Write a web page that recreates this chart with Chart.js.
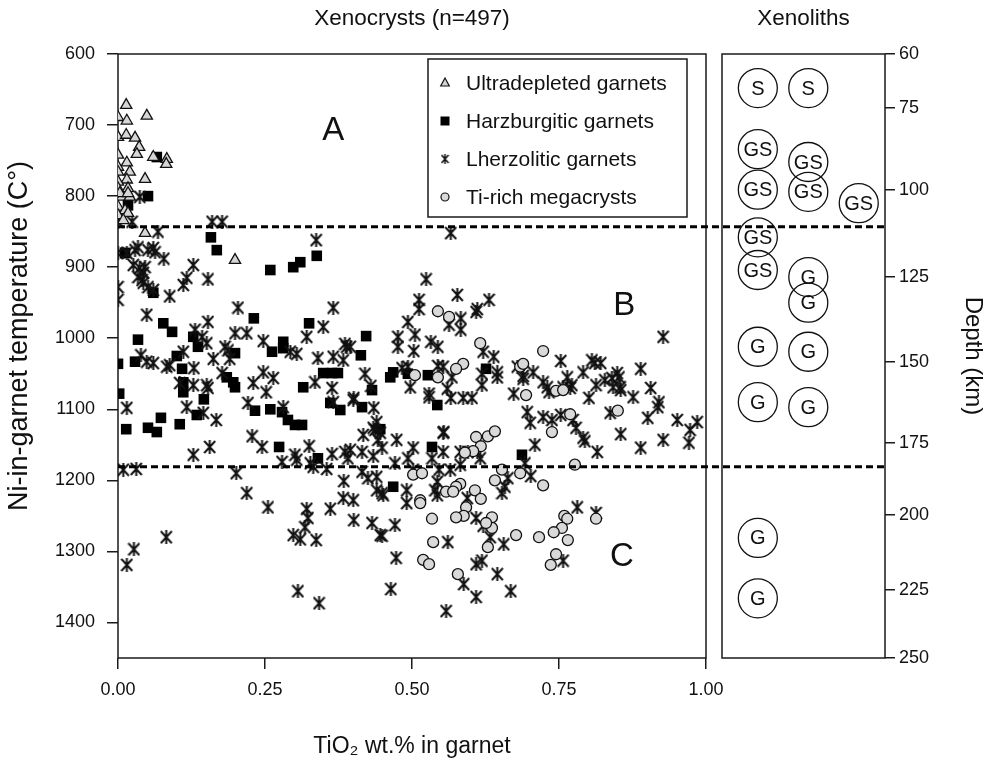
<!DOCTYPE html>
<html><head><meta charset="utf-8">
<script src="https://cdn.jsdelivr.net/npm/chart.js@4.4.1/dist/chart.umd.min.js"></script>
<style>
html,body{margin:0;padding:0;background:#fff;}
#wrap{position:relative;width:989px;height:764px;}
#wrap canvas{position:absolute;left:0;top:0;}
</style></head><body>
<div id="wrap"><canvas id="main" width="989" height="764"></canvas><canvas id="xeno" width="989" height="764"></canvas></div>
<script>
// ---------- DATA (TiO2 wt.%, Ni-in-garnet temperature °C) ----------
const ultradepleted = [[0.014,672],[0.000,689],[0.049,687],[0.015,694],[0.000,717],[0.014,714],[0.029,718],[0.036,731],[0.032,741],[0.000,742],[0.060,745],[0.083,748],[0.082,755],[0.015,753],[0.000,759],[0.000,766],[0.020,766],[0.046,776],[0.015,777],[0.000,780],[0.000,789],[0.017,789],[0.007,801],[0.020,801],[0.003,796],[0.017,796],[0.000,815],[0.012,820],[0.017,824],[0.000,827],[0.009,834],[0.046,852],[0.199,890]];
const harzburgitic = [[0.066,745],[0.051,800],[0.017,813],[0.158,858],[0.168,876],[0.259,904],[0.298,900],[0.310,893],[0.338,884],[0.012,880],[0.060,936],[0.231,972],[0.077,979],[0.092,991],[0.325,979],[0.034,1002],[0.128,998],[0.136,1012],[0.281,1005],[0.281,1014],[0.262,1019],[0.199,1021],[0.422,997],[0.413,1024],[0.000,1036],[0.029,1033],[0.100,1025],[0.109,1043],[0.349,1049],[0.364,1049],[0.374,1049],[0.463,1055],[0.468,1048],[0.111,1062],[0.111,1076],[0.185,1055],[0.196,1062],[0.199,1069],[0.315,1069],[0.432,1073],[0.146,1086],[0.002,1078],[0.361,1091],[0.378,1101],[0.415,1097],[0.233,1102],[0.259,1100],[0.279,1104],[0.289,1115],[0.301,1122],[0.313,1122],[0.134,1108],[0.073,1112],[0.014,1128],[0.051,1126],[0.066,1132],[0.105,1121],[0.446,1128],[0.274,1153],[0.340,1169],[0.468,1209],[0.493,1050],[0.527,1052],[0.543,1094],[0.626,1043],[0.534,1153],[0.687,1164]];
const lherzolitic = [[0.037,801],[0.000,836],[0.024,836],[0.160,836],[0.177,836],[0.068,850],[0.000,880],[0.015,880],[0.029,876],[0.034,872],[0.051,876],[0.060,873],[0.063,879],[0.078,888],[0.026,897],[0.037,901],[0.046,900],[0.043,908],[0.034,914],[0.041,918],[0.043,922],[0.051,928],[0.060,932],[0.088,941],[0.128,897],[0.117,915],[0.111,925],[0.153,917],[0.000,928],[0.000,946],
[0.337,862],[0.049,967],[0.204,957],[0.366,957],[0.153,977],[0.349,984],[0.131,988],[0.143,998],[0.151,1007],[0.199,993],[0.219,993],[0.247,1004],[0.321,998],[0.182,1012],[0.187,1017],[0.190,1029],[0.162,1029],[0.111,1019],[0.039,1024],[0.049,1033],[0.060,1035],[0.083,1040],[0.088,1038],[0.129,1042],[0.177,1049],[0.247,1048],[0.264,1056],[0.230,1063],[0.252,1076],[0.293,1019],[0.304,1022],[0.340,1028],[0.366,1026],[0.383,1031],[0.386,1008],[0.389,1012],[0.420,1050],[0.335,1062],[0.364,1070],[0.105,1063],[0.128,1066],[0.151,1066],[0.153,1070],[0.400,1087],[0.015,1098],[0.117,1097],[0.145,1105],[0.167,1115],[0.221,1091],[0.281,1097],[0.366,1090],[0.435,1098],[0.440,1118],[0.434,1126],[0.446,1133],[0.442,1143],[0.417,1136],[0.228,1138],[0.156,1153],[0.245,1153],[0.325,1152],[0.474,1143],[0.476,998],[0.476,1012],
[0.128,1164],[0.009,1185],[0.031,1184],[0.201,1190],[0.279,1174],[0.301,1164],[0.304,1171],[0.332,1181],[0.327,1176],[0.355,1184],[0.364,1163],[0.386,1160],[0.391,1169],[0.415,1160],[0.434,1166],[0.415,1188],[0.425,1197],[0.440,1195],[0.440,1214],[0.451,1221],[0.471,1176],[0.384,1201],[0.219,1218],[0.255,1238],[0.383,1225],[0.400,1228],[0.361,1240],[0.321,1240],[0.323,1253],[0.318,1266],[0.298,1277],[0.310,1283],[0.337,1284],[0.401,1256],[0.432,1260],[0.446,1277],[0.471,1263],[0.082,1280],[0.027,1297],[0.015,1319],[0.473,1309],[0.306,1356],[0.342,1373],[0.464,1353],
[0.566,852],[0.524,917],[0.512,946],[0.512,959],[0.577,939],[0.611,959],[0.609,963],[0.631,946],[0.493,977],[0.583,972],[0.583,988],[0.563,981],[0.505,995],[0.503,1018],[0.532,1005],[0.544,1012],[0.621,1019],[0.639,1026],[0.645,1048],[0.645,1055],[0.395,1012],[0.430,1067],[0.401,1084],[0.483,1042],[0.493,1040],[0.497,1069],[0.529,1078],[0.529,1083],[0.544,1039],[0.553,1040],[0.560,1071],[0.566,1084],[0.587,1084],[0.602,1084],[0.619,1050],[0.619,1066],[0.568,1055],[0.673,1078],[0.679,1040],[0.689,1053],[0.689,1057],[0.706,1048],[0.723,1062],[0.730,1069],[0.733,1076],[0.753,1032],[0.764,1055],[0.757,1069],[0.769,1070],[0.772,1066],[0.791,1048],[0.806,1031],[0.811,1035],[0.821,1035],[0.801,1084],[0.813,1066],[0.840,1056],[0.842,1069],[0.849,1049],[0.852,1055],[0.854,1069],[0.855,1073],[0.828,1059],[0.876,1083],[0.889,1043],[0.906,1070],[0.920,1090],[0.918,1097],[0.927,998],[0.696,1104],[0.701,1119],[0.723,1111],[0.738,1115],[0.753,1108],[0.774,1115],[0.779,1126],[0.791,1140],[0.794,1145],[0.815,1160],[0.837,1105],[0.855,1135],[0.889,1154],[0.901,1112],[0.927,1143],[0.951,1115],[0.973,1129],[0.971,1147],[0.985,1118],
[0.554,1132],[0.437,1129],[0.449,1154],[0.493,1169],[0.502,1154],[0.553,1160],[0.582,1160],[0.534,1169],[0.611,1160],[0.616,1169],[0.709,1150],[0.395,1157],[0.546,1185],[0.565,1185],[0.502,1185],[0.702,1194],[0.553,1133],[0.595,1160],[0.582,1178],[0.692,1176],[0.663,1197],[0.658,1209],[0.653,1218],[0.543,1202],[0.543,1221],[0.539,1214],[0.491,1214],[0.491,1232],[0.449,1218],[0.594,1225],[0.781,1238],[0.813,1246],[0.609,1253],[0.621,1264],[0.633,1280],[0.449,1278],[0.561,1287],[0.656,1290],[0.757,1313],[0.609,1318],[0.619,1313],[0.645,1332],[0.588,1346],[0.609,1364],[0.668,1356],[0.558,1384]];
const megacrysts = [[0.544,962],[0.563,970],[0.616,1007],[0.723,1018],[0.587,1036],[0.575,1043],[0.505,1052],[0.544,1055],[0.684,1040],[0.689,1036],[0.694,1080],[0.745,1074],[0.757,1073],[0.769,1107],[0.738,1132],[0.850,1102],[0.609,1139],[0.629,1138],[0.641,1131],[0.617,1152],[0.604,1159],[0.590,1161],[0.777,1178],[0.502,1192],[0.517,1190],[0.653,1185],[0.684,1190],[0.641,1200],[0.582,1205],[0.575,1209],[0.558,1216],[0.570,1216],[0.607,1214],[0.617,1226],[0.514,1228],[0.514,1232],[0.723,1207],[0.592,1238],[0.588,1250],[0.575,1252],[0.534,1254],[0.636,1252],[0.636,1267],[0.626,1260],[0.759,1250],[0.764,1254],[0.813,1254],[0.755,1267],[0.741,1273],[0.765,1284],[0.677,1277],[0.716,1280],[0.536,1287],[0.629,1294],[0.745,1304],[0.736,1319],[0.519,1312],[0.529,1318],[0.578,1332]];
const boundaryT = [843, 1181];          // dashed boundaries (°C)
const boundaryX = [0, 1.304];          // extent of dashed lines (TiO2 units, runs into Xenoliths panel)
const tempTicks = [600,700,800,900,1000,1100,1200,1300,1400];
const tioTicks = [0, 0.25, 0.5, 0.75, 1.0];
const regionLabels = ['A','B','C'];
const regionX = [0.366, 0.861, 0.857];
const regionT = [708, 955, 1308];
const legendLabels = ['Ultradepleted garnets','Harzburgitic garnets','Lherzolitic garnets','Ti-rich megacrysts'];
// Xenoliths panel
const xenolithLabels = ['S','S','GS','GS','GS','GS','GS','GS','GS','G','G','G','G','G','G','G','G'];
const xenolithColumn = [1,2,1,2,1,2,3,1,1,2,2,1,2,1,2,1,1];
const xenolithT = [648,648,734,752,791,794,810,858,904,914,950,1012,1019,1090,1097,1281,1366];
const depthTicks = [60,75,100,125,150,175,200,225,250];       // km
const depthTickT = [600,676,791,914,1033,1147,1249,1354,1450]; // equivalent temperature position

// ---------- STYLE ----------
const FONT = "'Liberation Sans', Arial, Helvetica, sans-serif";
Chart.defaults.font.family = FONT;
Chart.defaults.color = '#111';
const INK = '#1a1a1a';
const toXY = a => a.map(p => ({x: p[0], y: p[1]}));

function makeStar(w, h, lw) {
  const c = document.createElement('canvas');
  c.width = w; c.height = h;
  const g = c.getContext('2d');
  g.strokeStyle = '#111'; g.lineWidth = lw;
  g.beginPath();
  g.moveTo(1, 1); g.lineTo(w - 1, h - 1);
  g.moveTo(w - 1, 1); g.lineTo(1, h - 1);
  g.moveTo(w / 2, 0); g.lineTo(w / 2, h);
  g.stroke();
  return c;
}
const starPt = makeStar(13, 14, 2);
const starLeg = makeStar(9, 10, 1.5);

const framePlugin = {
  id: 'frame',
  beforeDatasetsDraw(chart) {
    const {ctx, chartArea: a} = chart;
    ctx.save();
    ctx.strokeStyle = INK; ctx.lineWidth = 1.5;
    ctx.strokeRect(a.left, a.top, a.right - a.left, a.bottom - a.top);
    ctx.restore();
  }
};

const yTitlePlugin = {
  id: 'yTitle',
  afterDraw(chart) {
    const ctx = chart.ctx;
    ctx.save();
    ctx.translate(20, 336);
    ctx.rotate(-Math.PI / 2);
    ctx.font = '27px ' + FONT;
    ctx.fillStyle = '#111';
    ctx.textAlign = 'center'; ctx.textBaseline = 'middle';
    ctx.fillText('Ni-in-garnet temperature (C°)', 0, 0);
    ctx.restore();
  }
};

const regionPlugin = {
  id: 'regions',
  afterDatasetsDraw(chart) {
    const {ctx, scales} = chart;
    ctx.save();
    ctx.font = '33px ' + FONT;
    ctx.fillStyle = '#111';
    ctx.textAlign = 'center'; ctx.textBaseline = 'middle';
    regionLabels.forEach((t, i) => {
      ctx.fillText(t, scales.x.getPixelForValue(regionX[i]), scales.y.getPixelForValue(regionT[i]));
    });
    ctx.restore();
  }
};

const legendPlugin = {
  id: 'customLegend',
  afterDraw(chart) {
    const ctx = chart.ctx;
    const bx = 428, by = 59, bw = 259, bh = 158;
    ctx.save();
    ctx.fillStyle = '#fff';
    ctx.fillRect(bx, by, bw, bh);
    ctx.strokeStyle = INK; ctx.lineWidth = 1.5;
    ctx.strokeRect(bx, by, bw, bh);
    const rows = [83, 121, 159, 197];
    const mx = 445;
    ctx.fillStyle = '#d4d4d4'; ctx.strokeStyle = '#111'; ctx.lineWidth = 1.2;
    ctx.beginPath();
    ctx.moveTo(mx, rows[0] - 5); ctx.lineTo(mx + 4.3, rows[0] + 3); ctx.lineTo(mx - 4.3, rows[0] + 3); ctx.closePath();
    ctx.fill(); ctx.stroke();
    ctx.fillStyle = '#000';
    ctx.fillRect(mx - 4.5, rows[1] - 4.5, 9, 9);
    ctx.drawImage(starLeg, mx - 4.5, rows[2] - 5);
    ctx.beginPath(); ctx.arc(mx, rows[3], 4, 0, Math.PI * 2);
    ctx.fillStyle = '#d9d9d9'; ctx.fill(); ctx.lineWidth = 1.2; ctx.strokeStyle = '#111'; ctx.stroke();
    ctx.fillStyle = '#111';
    ctx.font = '21px ' + FONT;
    ctx.textAlign = 'left'; ctx.textBaseline = 'middle';
    legendLabels.forEach((t, i) => ctx.fillText(t, 466, rows[i] + 1));
    ctx.restore();
  }
};

const dashed = (t) => ({
  type: 'line',
  data: boundaryX.map(x => ({x: x, y: t})),
  borderColor: '#000', borderWidth: 3, borderDash: [7, 4],
  pointRadius: 0, showLine: true, fill: false, clip: false
});

new Chart(document.getElementById('main'), {
  type: 'scatter',
  data: {
    datasets: [
      dashed(boundaryT[0]),
      dashed(boundaryT[1]),
      {label: 'Ti-rich megacrysts', data: toXY(megacrysts), pointStyle: 'circle', pointRadius: 5.5,
       backgroundColor: '#d9d9d9', borderColor: '#111', borderWidth: 1.3},
      {label: 'Ultradepleted garnets', data: toXY(ultradepleted), pointStyle: 'triangle', pointRadius: 6.5,
       backgroundColor: '#d6d6d6', borderColor: '#111', borderWidth: 1.3},
      {label: 'Lherzolitic garnets', data: toXY(lherzolitic), pointStyle: starPt, pointRadius: 7},
      {label: 'Harzburgitic garnets', data: toXY(harzburgitic), pointStyle: 'rect', pointRadius: 7.5,
       backgroundColor: '#000', borderColor: '#000', borderWidth: 0}
    ]
  },
  options: {
    responsive: false, animation: false, events: [],
    layout: {padding: {left: 0, right: 283, top: 0, bottom: 0}},
    plugins: {
      legend: {display: false}, tooltip: {enabled: false},
      title: {display: true, text: 'Xenocrysts (n=497)', fullSize: false, color: '#111',
              font: {size: 22.5, weight: 'normal'}, padding: {top: 5, bottom: 22}}
    },
    scales: {
      x: {
        type: 'linear', min: 0, max: 1,
        afterBuildTicks: s => { s.ticks = tioTicks.map(v => ({value: v})); },
        ticks: {callback: v => Number(v).toFixed(2), font: {size: 18}, padding: 10, maxRotation: 0, autoSkip: false, color: '#111'},
        grid: {drawOnChartArea: false, tickLength: 11, color: INK, lineWidth: 1.5},
        border: {display: false},
        title: {display: true, text: 'TiO₂ wt.% in garnet', font: {size: 23}, color: '#111', padding: {top: 0, bottom: 4}},
        afterFit: s => { s.height = 106; }
      },
      y: {
        type: 'linear', reverse: true, min: 600, max: 1450,
        afterBuildTicks: s => { s.ticks = tempTicks.map(v => ({value: v})); },
        ticks: {callback: v => String(v), font: {size: 18}, padding: 12, autoSkip: false, color: '#111'},
        grid: {drawOnChartArea: false, tickLength: 11, color: INK, lineWidth: 1.5},
        border: {display: false},
        title: {display: false},
        afterFit: s => { s.width = 118; }
      }
    }
  },
  plugins: [framePlugin, regionPlugin, legendPlugin, yTitlePlugin]
});

const xenoLabelPlugin = {
  id: 'xenoLabels',
  afterDatasetsDraw(chart) {
    const {ctx} = chart;
    const meta = chart.getDatasetMeta(0);
    ctx.save();
    ctx.font = '20px ' + FONT;
    ctx.fillStyle = '#111';
    ctx.textAlign = 'center'; ctx.textBaseline = 'middle';
    meta.data.forEach((el, i) => ctx.fillText(xenolithLabels[i], el.x, el.y + 1));
    ctx.restore();
  }
};

new Chart(document.getElementById('xeno'), {
  type: 'scatter',
  data: {
    datasets: [{
      label: 'Xenoliths',
      data: xenolithColumn.map((c, i) => ({x: c, y: xenolithT[i]})),
      pointStyle: 'circle', pointRadius: 19.5,
      backgroundColor: 'rgba(0,0,0,0)', borderColor: '#111', borderWidth: 1.3
    }]
  },
  options: {
    responsive: false, animation: false, events: [],
    layout: {padding: {left: 722, right: 0, top: 0, bottom: 106}},
    plugins: {
      legend: {display: false}, tooltip: {enabled: false},
      title: {display: true, text: 'Xenoliths', fullSize: false, color: '#111',
              font: {size: 22.5, weight: 'normal'}, padding: {top: 5, bottom: 22}}
    },
    scales: {
      x: {type: 'linear', min: 0.29, max: 3.52, display: false},
      y: {
        type: 'linear', position: 'right', reverse: true, min: 600, max: 1450,
        afterBuildTicks: s => { s.ticks = depthTickT.map(v => ({value: v})); },
        ticks: {callback: (v, i) => String(depthTicks[i]), font: {size: 18}, padding: 4, autoSkip: false, color: '#111'},
        grid: {drawOnChartArea: false, tickLength: 10, color: INK, lineWidth: 1.5},
        border: {display: false},
        title: {display: true, text: 'Depth (km)', font: {size: 24}, color: '#111', padding: {top: 2}},
        afterFit: s => { s.width = 104; }
      }
    }
  },
  plugins: [framePlugin, xenoLabelPlugin]
});
</script>
</body></html>
